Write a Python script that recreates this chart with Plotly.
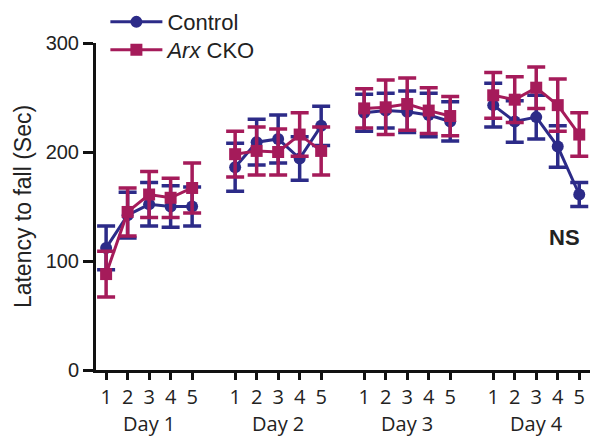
import plotly.graph_objects as go

days = ["Day 1", "Day 2", "Day 3", "Day 4"]
trials = [1, 2, 3, 4, 5]

control_mean = [
    [112, 142, 152, 150, 150],
    [186, 209, 212, 194, 224],
    [236, 238, 237, 234, 228],
    [243, 228, 232, 205, 161],
]
control_sem = [
    [20, 21, 20, 19, 18],
    [22, 21, 22, 20, 18],
    [17, 16, 19, 20, 18],
    [20, 19, 20, 19, 11],
]
arx_mean = [
    [88, 145, 161, 158, 167],
    [198, 201, 200, 216, 201],
    [240, 241, 244, 238, 233],
    [252, 248, 259, 243, 216],
]
arx_sem = [
    [21, 22, 21, 18, 23],
    [21, 22, 21, 20, 22],
    [18, 25, 24, 21, 18],
    [21, 21, 19, 24, 20],
]

BLUE = "#2c2b88"
RED = "#a51b5a"
GAP = 6  # positions per day block (5 trials + 1 gap)

def xpos(d):
    return [d * GAP + t for t in trials]

fig = go.Figure()

series = [
    ("Control", control_mean, control_sem, BLUE, "circle", "legend"),
    ("<i>Arx</i> CKO", arx_mean, arx_sem, RED, "square", "legend2"),
]
for name, means, sems, color, symbol, leg in series:
    for d in range(len(days)):
        fig.add_trace(go.Scatter(
            x=xpos(d), y=means[d],
            mode="lines+markers",
            name=name, legendgroup=name, showlegend=(d == 0), legend=leg,
            line=dict(color=color, width=3),
            marker=dict(color=color, symbol=symbol, size=12),
            error_y=dict(type="data", array=sems[d], color=color,
                         thickness=3.5, width=9),
        ))

tickvals = [v for d in range(len(days)) for v in xpos(d)]
ticktext = [str(t) for d in range(len(days)) for t in trials]

legend_style = dict(xanchor="left", yanchor="middle", bgcolor="rgba(0,0,0,0)",
                    itemwidth=52, font=dict(size=22))

fig.update_layout(
    width=601, height=440,
    margin=dict(l=96, r=11, t=43, b=70, autoexpand=False),
    paper_bgcolor="white", plot_bgcolor="white",
    font=dict(family="Liberation Sans, Arial, sans-serif", size=20, color="#222"),
    legend=dict(x=0.019, y=1.064, **legend_style),
    legend2=dict(x=0.019, y=0.979, **legend_style),
    xaxis=dict(
        range=[0.53, 23.5], tickvals=tickvals, ticktext=ticktext,
        showline=True, linecolor="#111", linewidth=3,
        ticks="outside", ticklen=7, tickwidth=2.5, tickcolor="#111",
        showgrid=False, zeroline=False, automargin=False,
        tickfont=dict(family="Open Sans, DejaVu Sans, sans-serif", size=20),
    ),
    yaxis=dict(
        range=[0, 300], tickvals=[0, 100, 200, 300],
        showline=True, linecolor="#111", linewidth=3,
        ticks="outside", ticklen=10, tickwidth=2.5, tickcolor="#111",
        showgrid=False, zeroline=False, automargin=False,
        title=dict(text="Latency to fall (Sec)", font=dict(size=23), standoff=8),
        tickfont=dict(size=20),
    ),
)

for d, label in enumerate(days):
    fig.add_annotation(
        x=d * GAP + 3, y=0, xref="x", yref="paper",
        text=label, showarrow=False, yshift=-53, yanchor="middle",
        font=dict(family="Open Sans, DejaVu Sans, sans-serif", size=20, color="#222"),
    )

fig.add_annotation(x=22.3, y=122, xref="x", yref="y", text="<b>NS</b>",
                   showarrow=False, font=dict(size=22, color="#222"))

fig.write_html("out.html", config={"displayModeBar": False},
               post_script="document.body.style.margin='0';document.body.style.overflow='hidden';")
